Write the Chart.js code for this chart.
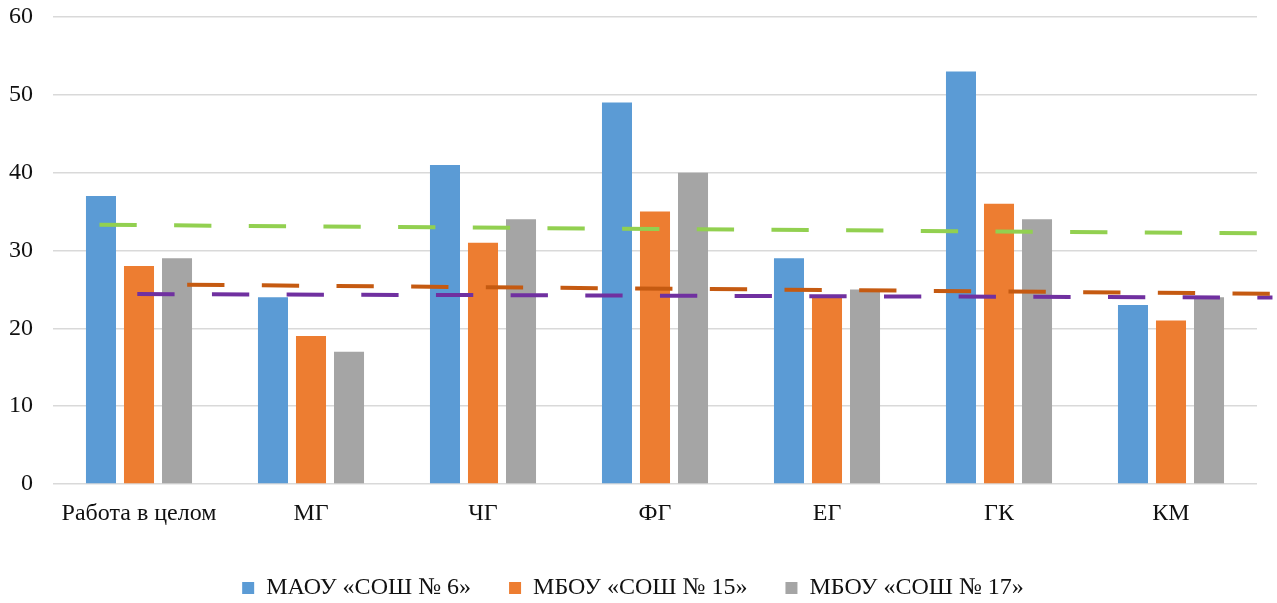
<!DOCTYPE html>
<html>
<head>
<meta charset="utf-8">
<script src="https://cdn.jsdelivr.net/npm/chart.js@4/dist/chart.umd.min.js"></script>
<style>
html,body{margin:0;padding:0;background:#fff;}
#wrap{width:1277px;height:603px;position:relative;}
</style>
</head>
<body>
<div id="wrap"><canvas id="c" width="1277" height="603"></canvas></div>
<script>
const categories = ["Работа в целом", "МГ", "ЧГ", "ФГ", "ЕГ", "ГК", "КМ"];
const seriesNames = ["МАОУ «СОШ № 6»", "МБОУ «СОШ № 15»", "МБОУ «СОШ № 17»"];
const school6 = [37, 24, 41, 49, 29, 53, 23];
const school15 = [28, 19, 31, 35, 24, 36, 21];
const school17 = [29, 17, 34, 40, 25, 34, 24];
// dashed trend lines: [position in category index units, value] at start and end
const trendGreen = [[-0.23, 33.3], [6.5, 32.2]];
const trendOrange = [[0.28, 25.6], [6.58, 24.45]];
const trendPurple = [[-0.01, 24.4], [6.59, 23.95]];
const yTicks = [0, 10, 20, 30, 40, 50, 60];

const FONT = "'Liberation Serif', 'DejaVu Serif', serif";
const toPts = arr => arr.map(p => ({x: p[0], y: p[1]}));

function barDs(label, data, color) {
  return {type: 'bar', label, data, backgroundColor: color, borderWidth: 0,
    barPercentage: 0.79, categoryPercentage: 0.663, order: 2};
}
function lineDs(label, pts, color) {
  return {type: 'line', label, data: toPts(pts), parsing: false, borderColor: color, borderWidth: 4,
    borderDash: [37.3, 37.37], borderCapStyle: 'butt', pointRadius: 0, fill: false,
    clip: false, order: 1, isTrend: true};
}

new Chart(document.getElementById('c'), {
  data: {
    labels: categories,
    datasets: [
      barDs(seriesNames[0], school6, '#5B9BD5'),
      barDs(seriesNames[1], school15, '#ED7D31'),
      barDs(seriesNames[2], school17, '#A5A5A5'),
      lineDs('trend1', trendGreen, '#92D050'),
      lineDs('trend2', trendOrange, '#C55A11'),
      lineDs('trend3', trendPurple, '#7030A0')
    ]
  },
  options: {
    responsive: false,
    animation: false,
    devicePixelRatio: 1,
    layout: {padding: {left: 9, right: 20, top: 17, bottom: -7}},
    plugins: {
      tooltip: {enabled: false},
      legend: {
        position: 'bottom',
        labels: {
          font: {family: FONT, size: 24},
          color: '#111',
          boxWidth: 12, boxHeight: 12,
          padding: 38,
          filter: (item, data) => !data.datasets[item.datasetIndex].isTrend
        }
      }
    },
    scales: {
      x: {
        type: 'category',
        offset: true,
        grid: {display: false},
        border: {display: false},
        ticks: {font: {family: FONT, size: 24}, color: '#111', padding: 7, maxRotation: 0, autoSkip: false},
        afterFit: s => { s.height = 54; s.paddingLeft = 0; s.paddingRight = 0; }
      },
      y: {
        min: 0, max: 60,
        afterBuildTicks: s => { s.ticks = yTicks.map(v => ({value: v})); },
        grid: {color: '#d9d9d9', lineWidth: 1.5, drawTicks: false},
        border: {display: false},
        ticks: {font: {family: FONT, size: 24}, color: '#111', padding: 20},
        afterFit: s => { s.width = 44; s.paddingTop = 0; s.paddingBottom = 0; }
      }
    }
  }
});
</script>
</body>
</html>
